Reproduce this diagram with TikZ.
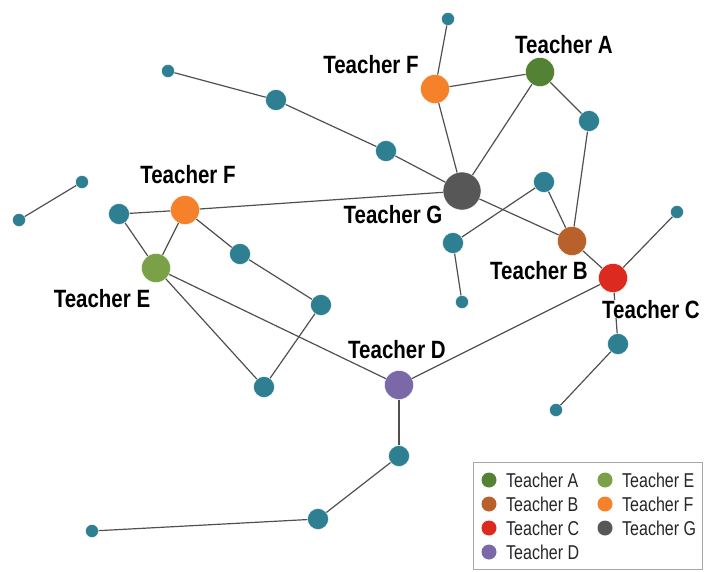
\documentclass[tikz,border=0pt]{standalone}
\usepackage{fontspec}
\setmainfont{Liberation Sans}
\newfontfamily\narrowfont[FakeStretch=0.82]{Liberation Sans}
\newfontfamily\legendfont[FakeStretch=0.80]{Liberation Sans}
\definecolor{peer}{HTML}{2F7F93}
\definecolor{tA}{HTML}{548235}
\definecolor{tB}{HTML}{B8612B}
\definecolor{tC}{HTML}{DD2A20}
\definecolor{tD}{HTML}{7A68A8}
\definecolor{tE}{HTML}{7AA148}
\definecolor{tF}{HTML}{F5822A}
\definecolor{tG}{HTML}{575757}
\definecolor{edgecol}{HTML}{505050}
\tikzset{
  dot/.style={circle, inner sep=0pt, draw=white, line width=0.4pt},
  peer/.style={dot, fill=peer, minimum size=21pt},
  leaf/.style={dot, fill=peer, minimum size=13pt},
  teacher/.style={dot, minimum size=29pt},
  link/.style={draw=edgecol, line width=1.2pt},
  tlabel/.style={anchor=base, inner sep=0pt, fill=white, font=\narrowfont\bfseries\fontsize{25}{25}\selectfont},
  legdot/.style={circle, inner sep=0pt, minimum size=15pt},
  legtext/.style={anchor=west, inner sep=0pt, text=black!85, font=\legendfont\fontsize{20}{20}\selectfont}
}
\begin{document}
\begin{tikzpicture}[x=1pt, y=-1pt]
\path[use as bounding box] (0,0) rectangle (705,571);

% teachers
\node[teacher, fill=tA] (A) at (540,72) {};
\node[teacher, fill=tB] (B) at (572,241) {};
\node[teacher, fill=tC] (C) at (613,278) {};
\node[teacher, fill=tD] (D) at (399,385) {};
\node[teacher, fill=tE] (E) at (156,268) {};
\node[teacher, fill=tF] (F1) at (185,210) {};
\node[teacher, fill=tF] (F2) at (435,89) {};
\node[teacher, fill=tG, minimum size=38pt] (G) at (462,191) {};

% other members of the network
\node[leaf] (l1) at (448,19) {};
\node[peer] (p1) at (589,121) {};
\node[peer] (p2) at (544,182) {};
\node[peer] (p3) at (453,243) {};
\node[leaf] (l2) at (462,302) {};
\node[leaf] (l3) at (677,212) {};
\node[peer] (p4) at (618,344) {};
\node[leaf] (l4) at (556,410) {};
\node[peer] (p5) at (399,456) {};
\node[peer] (p6) at (318,519) {};
\node[leaf] (l5) at (92,531) {};
\node[peer] (p7) at (264,387) {};
\node[peer] (p8) at (321,305) {};
\node[peer] (p9) at (240,254) {};
\node[peer] (p10) at (119,214) {};
\node[leaf] (l6) at (82,182) {};
\node[leaf] (l7) at (19,220) {};
\node[leaf] (l8) at (168,71) {};
\node[peer] (p11) at (276,100) {};
\node[peer] (p12) at (386,151) {};

% connections
\draw[link] (l1) -- (F2);
\draw[link] (F2) -- (A);
\draw[link] (F2) -- (G);
\draw[link] (A) -- (G);
\draw[link] (A) -- (p1);
\draw[link] (p1) -- (B);
\draw[link] (G) -- (B);
\draw[link] (p2) -- (B);
\draw[link] (p2) -- (p3);
\draw[link] (p3) -- (l2);
\draw[link] (B) -- (C);
\draw[link] (C) -- (l3);
\draw[link] (C) -- (p4);
\draw[link] (p4) -- (l4);
\draw[link] (C) -- (D);
\draw[link] (D) -- (p5);
\draw[link] (p5) -- (p6);
\draw[link] (p6) -- (l5);
\draw[link] (D) -- (E);
\draw[link] (E) -- (p7);
\draw[link] (p7) -- (p8);
\draw[link] (p8) -- (p9);
\draw[link] (p9) -- (F1);
\draw[link] (F1) -- (E);
\draw[link] (p10) -- (E);
\draw[link] (p10) -- (F1);
\draw[link] (F1) -- (G);
\draw[link] (l6) -- (l7);
\draw[link] (l8) -- (p11);
\draw[link] (p11) -- (p12);
\draw[link] (p12) -- (G);

% labels
\node[tlabel] (labA) at (564,53) {Teacher A};
\node[tlabel] (labF2) at (371,73) {Teacher F};
\node[tlabel] (labF1) at (188,183) {Teacher F};
\node[tlabel] (labE) at (102,307) {Teacher E};
\node[tlabel] (labG) at (393,223) {Teacher G};
\node[tlabel] (labB) at (539,279) {Teacher B};
\node[tlabel] (labC) at (651,318) {Teacher C};
\node[tlabel] (labD) at (397,358) {Teacher D};

% legend
\draw[draw=black!35, line width=1pt] (473,462) rectangle (702,569);
\node[legdot, fill=tA] (kA) at (489,480) {};
\node[legtext] (tkA) at (506,480) {Teacher A};
\node[legdot, fill=tB] (kB) at (489,504) {};
\node[legtext] (tkB) at (506,504) {Teacher B};
\node[legdot, fill=tC] (kC) at (489,528) {};
\node[legtext] (tkC) at (506,528) {Teacher C};
\node[legdot, fill=tD] (kD) at (489,552) {};
\node[legtext] (tkD) at (506,552) {Teacher D};
\node[legdot, fill=tE] (kE) at (605,480) {};
\node[legtext] (tkE) at (622,480) {Teacher E};
\node[legdot, fill=tF] (kF) at (605,504) {};
\node[legtext] (tkF) at (622,504) {Teacher F};
\node[legdot, fill=tG] (kG) at (605,528) {};
\node[legtext] (tkG) at (622,528) {Teacher G};
\end{tikzpicture}
\end{document}
